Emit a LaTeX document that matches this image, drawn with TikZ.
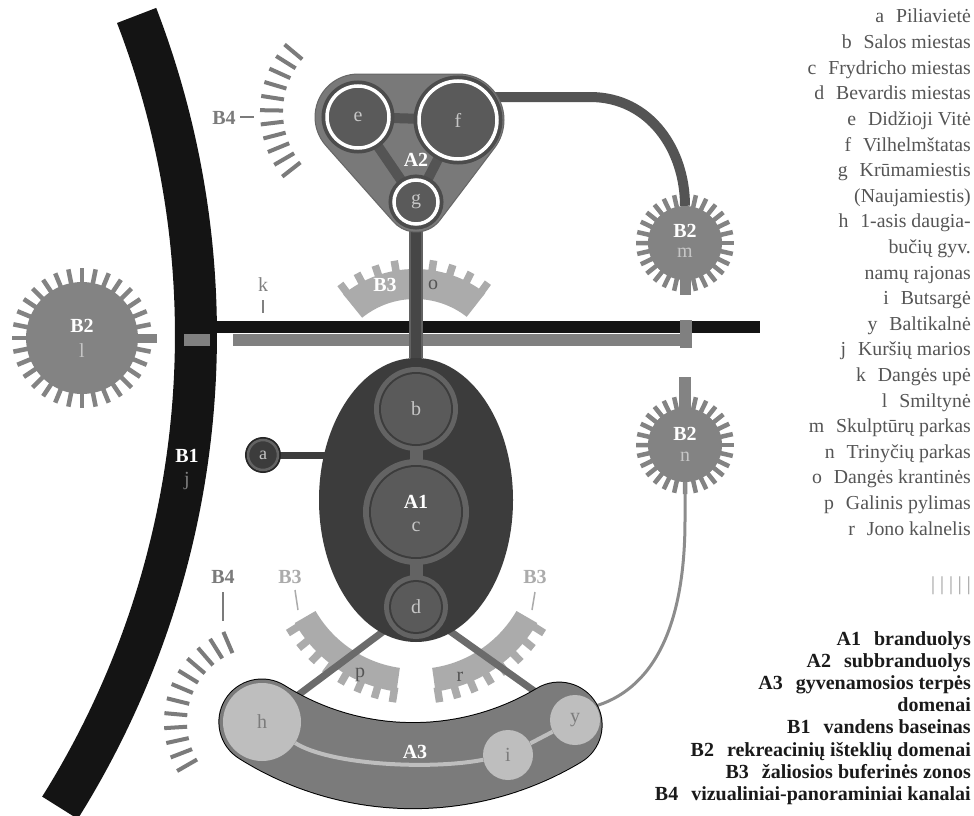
\documentclass[tikz,border=0pt]{standalone}
\usepackage{fontspec}
\setmainfont{Liberation Serif}
\usetikzlibrary{calc,shapes.geometric}
\pgfdeclarelayer{lzero}
\pgfdeclarelayer{lone}
\pgfdeclarelayer{ltwo}
\pgfdeclarelayer{lthree}
\pgfsetlayers{lzero,lone,ltwo,lthree,main}
\definecolor{bandblack}{HTML}{141414}
\definecolor{kgray}{HTML}{808080}
\definecolor{tricol}{HTML}{797979}
\definecolor{triedge}{HTML}{666666}
\definecolor{acirc}{HTML}{5A5A5A}
\definecolor{ahalo}{HTML}{4C4C4C}
\definecolor{conncol}{HTML}{545454}
\definecolor{aone}{HTML}{3C3C3C}
\definecolor{aring}{HTML}{636363}
\definecolor{bball}{HTML}{838383}
\definecolor{bthree}{HTML}{ABABAB}
\definecolor{bfour}{HTML}{7B7B7B}
\definecolor{athree}{HTML}{7B7B7B}
\definecolor{hcol}{HTML}{BEBEBE}
\definecolor{hletter}{HTML}{7C7C7C}
\definecolor{dline}{HTML}{6B6B6B}
\definecolor{lettercol}{HTML}{C6C6C6}
\definecolor{darkletter}{HTML}{555555}
\definecolor{legtext}{HTML}{555555}
\definecolor{legbold}{HTML}{1A1A1A}
\definecolor{nline}{HTML}{8C8C8C}
\definecolor{vline}{HTML}{464646}
\definecolor{vedge}{HTML}{626262}
\newcommand{\lf}{\fontsize{20}{24}\selectfont}
\newcommand{\radials}[8]{%
  \foreach \ii in {0,...,#8}{%
    \pgfmathsetmacro{\angv}{#6+#7*\ii}%
    \draw[#1] ($(#2,#3)+(\angv:#4)$) -- ($(#2,#3)+(\angv:#5)$);}}
\newcommand{\annsec}[7]{%
  \fill[#1] ($(#2,#3)+(#6:#4)$) arc[start angle=#6,end angle=#7,radius=#4]
    -- ($(#2,#3)+(#7:#5)$) arc[start angle=#7,end angle=#6,radius=#5] -- cycle;}
\begin{document}
\begin{tikzpicture}[x=1pt,y=-1pt,
  lab/.style={font=\lf, inner sep=0pt},
  wlab/.style={font=\lf\bfseries, inner sep=0pt, text=white},
  spike/.style={draw=bball, line width=4.5pt},
  tickline/.style={draw=bfour, line width=4pt},
  tooth/.style={draw=bthree, line width=7.5pt},
  ringnode/.style={circle, inner sep=0pt, fill=acirc, draw=white, line width=3.5pt,
    preaction={draw=ahalo, line width=11pt}, text=lettercol, font=\lf},
  corenode/.style={circle, inner sep=0pt, fill=acirc, text=lettercol, font=\lf,
    preaction={draw=aring, line width=#1}, preaction={draw=aone, line width=4pt}},
  b2ball/.style={circle, inner sep=0pt, fill=bball},
  lightnode/.style={circle, inner sep=0pt, fill=hcol, text=hletter, font=\lf},
  conn/.style={draw=conncol, line width=10pt},
  legt/.style={font=\fontsize{19.8}{24}\selectfont, text=legtext, inner sep=0pt},
  legb/.style={font=\fontsize{20}{24}\selectfont\bfseries, text=legbold, inner sep=0pt}
]
\useasboundingbox (0,0) rectangle (974,816);

% ---------- background layer ----------
\begin{pgfonlayer}{lzero}
 \fill[white] (0,0) rectangle (974,816);
 \annsec{bandblack}{-693.7}{335}{868.7}{910.7}{-21.05}{32.1}
 \fill[bandblack] (200,321) rectangle (760,333);
 \fill[kgray] (233,334) rectangle (686,346);
 \fill[kgray] (184,334) rectangle (210,346);
 \fill[kgray] (680,320) rectangle (692,348);
 \draw[kgray, line width=1.5pt] (263,300) -- (263,313);
 % B4 channels
 \radials{tickline}{365}{112}{82}{105}{142}{7.8}{10}
 \draw[bfour, line width=2pt] (240,117) -- (254,117);
 \radials{tickline}{262}{722}{75}{98}{150}{8.8}{11}
 \draw[bfour, line width=2pt] (223,592) -- (223,621);
 % B2 spikes
 \radials{spike}{82}{338}{54}{70}{0}{11.25}{31}
 \draw[bball, line width=9pt] (130,338) -- (157,338);
 \radials{spike}{685}{243}{35}{49}{0}{12.857}{27}
 \draw[bball, line width=11pt] (685,271) -- (685,295);
 \radials{spike}{685}{445}{35}{49}{0}{12.857}{27}
 \draw[bball, line width=12pt] (685,419) -- (685,377);
 % B3 buffers
 \annsec{bthree}{415}{383}{84}{114}{-129}{-52}
 \radials{tooth}{415}{383}{110}{124}{-127}{9.125}{8}
 \annsec{bthree}{416}{553}{116}{140}{98}{150}
 \radials{tooth}{416}{553}{136}{151}{99}{7}{7}
 \annsec{bthree}{416}{553}{116}{140}{30}{82}
 \radials{tooth}{416}{553}{136}{151}{32}{7}{7}
 \draw[bthree, line width=1.5pt] (295,590) -- (298,610);
 \draw[bthree, line width=1.5pt] (535,592) -- (532,610);
\end{pgfonlayer}

% ---------- big shapes ----------
\begin{pgfonlayer}{ltwo}
 \filldraw[fill=tricol, draw=triedge, line width=1pt]
   (358,74) -- (458,74) arc[start angle=-90,end angle=37.63,radius=46]
   -- (439.8,220.3) arc[start angle=37.63,end angle=138.9,radius=30]
   -- (325.6,145.3) arc[start angle=138.9,end angle=270,radius=43] -- cycle;
 \node[ellipse, fill=aone, minimum width=194pt, minimum height=284pt, inner sep=0pt] (A1) at (416,500) {};
 \draw[black, line width=87pt, line cap=round] (261.9,722) arc[start angle=122.2,end angle=59,radius=283.6];
 \draw[athree, line width=85pt, line cap=round] (261.9,722) arc[start angle=122.2,end angle=59,radius=283.6];
\end{pgfonlayer}
\coordinate (A3end) at (588,708);

% ---------- nodes ----------
\node[b2ball, minimum size=112pt] (B2l) at (82,338) {};
\node[b2ball, minimum size=74pt] (B2m) at (685,243) {};
\node[b2ball, minimum size=74pt] (B2n) at (685,445) {};
\node[wlab] (B2llab) at (82,326) {B2};
\node[lab, text=lettercol] (llab) at (82,351) {l};
\node[wlab] (B2mlab) at (685,231) {B2};
\node[lab, text=lettercol] (mlab) at (685,253) {m};
\node[wlab] (B2nlab) at (685,434) {B2};
\node[lab, text=lettercol] (nlab) at (685,457) {n};

\node[ringnode, minimum size=62pt] (ne) at (358,117) {e};
\node[ringnode, minimum size=78pt] (nf) at (458,120) {f};
\node[ringnode, minimum size=44pt] (ng) at (416,202) {g};
\node[wlab] (A2lab) at (416,160) {A2};

\node[corenode=14pt, minimum size=70pt] (nb) at (416,409) {b};
\node[corenode=16pt, minimum size=90pt] (nc) at (416,512) {};
\node[corenode=14pt, minimum size=50pt] (nd) at (416,607) {d};
\node[wlab] (A1lab) at (416,502) {A1};
\node[lab, text=lettercol] (clab) at (416,527) {c};
\node[circle, inner sep=0pt, minimum size=30pt, fill=aone, draw=aring, line width=2.5pt,
  preaction={draw=black!85, line width=6pt}, text=lettercol, font=\fontsize{18}{20}\selectfont] (na) at (263,455) {a};

\node[lightnode, minimum size=78pt] (nh) at (262,722) {h};
\node[lightnode, minimum size=50pt] (ni) at (508,755) {i};
\node[lightnode, minimum size=50pt] (ny) at (575,720) {y};
\node[wlab] (A3lab) at (415,752) {A3};

\node[wlab] (B1lab) at (187,456) {B1};
\node[lab, text=kgray] (jlab) at (187,481) {j};
\node[lab, text=kgray] (klab) at (263,285) {k};
\node[wlab, text=bfour] (B4top) at (224,118) {B4};
\node[wlab, text=bfour] (B4bot) at (223,577) {B4};
\node[wlab, text=bthree] (B3left) at (290,577) {B3};
\node[wlab, text=bthree] (B3right) at (535,577) {B3};
\node[wlab] (B3olab) at (385,285) {B3};
\node[lab, text=darkletter] (olab) at (433,285) {o};
\node[lab, text=darkletter] (plab) at (360,675) {p};
\node[lab, text=darkletter] (rlab) at (460,677) {r};

% ---------- inner connectors ----------
\begin{pgfonlayer}{lthree}
 \draw[conn] (ne) -- (nf);
 \draw[conn] (ne) -- (ng);
 \draw[conn] (nf) -- (ng);
 \draw[aring, line width=13pt] (nb) -- (nc);
 \draw[aring, line width=13pt] (nc) -- (nd);
 \draw[hcol, line width=4pt] (nh) .. controls (330,765) and (430,770) .. (ni);
 \draw[hcol, line width=4pt] (ni) -- (ny);
\end{pgfonlayer}

% ---------- outer connectors ----------
\begin{pgfonlayer}{lone}
 \draw[conn] ($(nf)+(0,-23)$) -- (590,97) .. controls (650,97) and (685,150) .. (B2m);
 \draw[nline, line width=3pt] (B2n) -- (685,520) .. controls (685,640) and (645,695) .. (A3end);
 \draw[vedge, line width=14pt] (ng) -- (A1);
 \draw[vline, line width=10pt] (ng) -- (A1);
 \draw[aone, line width=7pt] (na) -- (na -| A1);
 \draw[dline, line width=7pt] (nd) -- (nh);
 \draw[dline, line width=7pt] (nd) -- (ny);
\end{pgfonlayer}

% ---------- legend ----------
\foreach \t [count=\ii] in {{a\hspace{0.6em}Piliavietė},{b\hspace{0.6em}Salos miestas},
  {c\hspace{0.6em}Frydricho miestas},{d\hspace{0.6em}Bevardis miestas},{e\hspace{0.6em}Didžioji Vitė},
  {f\hspace{0.6em}Vilhelmštatas},{g\hspace{0.6em}Krūmamiestis},{(Naujamiestis)},
  {h\hspace{0.6em}1-asis daugia-},{bučių gyv.},{namų rajonas},{i\hspace{0.6em}Butsargė},
  {y\hspace{0.6em}Baltikalnė},{j\hspace{0.6em}Kuršių marios},{k\hspace{0.6em}Dangės upė},
  {l\hspace{0.6em}Smiltynė},{m\hspace{0.6em}Skulptūrų parkas},{n\hspace{0.6em}Trinyčių parkas},
  {o\hspace{0.6em}Dangės krantinės},{p\hspace{0.6em}Galinis pylimas},{r\hspace{0.6em}Jono kalnelis}}
  \node[legt, anchor=base east] (lt\ii) at (971,{23+25.6*(\ii-1)}) {\t};
\node[legt, text=black!40, anchor=base east] (bars) at (971,590) {| | | | |};
\foreach \t [count=\ii] in {{A1\hspace{0.65em}branduolys},{A2\hspace{0.65em}subbranduolys},
  {A3\hspace{0.65em}gyvenamosios terpės},{domenai},{B1\hspace{0.65em}vandens baseinas},
  {B2\hspace{0.65em}rekreacinių išteklių domenai},{B3\hspace{0.65em}žaliosios buferinės zonos},
  {B4\hspace{0.65em}vizualiniai-panoraminiai kanalai}}
  \node[legb, anchor=base east] (lb\ii) at (971,{645+22.2*(\ii-1)}) {\t};
\end{tikzpicture}
\end{document}
